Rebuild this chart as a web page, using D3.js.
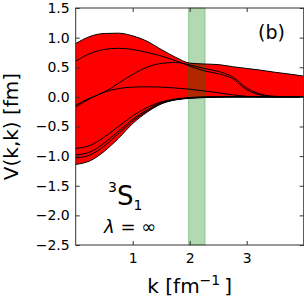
<!DOCTYPE html>
<html>
<head>
<meta charset="utf-8">
<script src="https://cdn.jsdelivr.net/npm/d3@7"></script>
<style>
  body { margin: 0; background: #fff; }
  text { font-family: "DejaVu Sans", sans-serif; fill: #000; }
</style>
</head>
<body>
<div id="chart"></div>
<script>
// momentum grid shared by all curves (fm^-1)
const kGrid = [0, 0.25, 0.5, 0.75, 1.0, 1.25, 1.5, 1.75, 2.0, 2.25, 2.5, 2.75, 3.0, 3.25, 3.5, 3.75, 4.0];

// diagonal matrix elements V(k,k) [fm], one array per potential
const curveU = [0.90, 1.02, 1.07, 1.075, 1.03, 0.94, 0.80, 0.67, 0.57, 0.555, 0.545, 0.51, 0.48, 0.45, 0.415, 0.385, 0.35];
const curveA = [0.605, 0.73, 0.80, 0.82, 0.80, 0.75, 0.69, 0.61, 0.52, 0.44, 0.39, 0.31, 0.12, 0.03, 0.0, 0.0, 0.0];
const curveB = [-0.14, -0.02, 0.08, 0.23, 0.38, 0.50, 0.565, 0.58, 0.54, 0.48, 0.43, 0.34, 0.15, 0.045, 0.01, 0.0, 0.0];
const curveC = [-0.17, -0.03, 0.08, 0.14, 0.165, 0.17, 0.165, 0.15, 0.13, 0.10, 0.07, 0.035, 0.01, 0.0, 0.0, 0.0, 0.0];
const curveD = [-0.87, -0.82, -0.68, -0.50, -0.32, -0.18, -0.085, -0.035, -0.012, 0.0, 0.0, 0.0, 0.0, 0.0, 0.0, 0.0, 0.0];
const curveE = [-0.98, -0.93, -0.78, -0.58, -0.38, -0.22, -0.10, -0.045, -0.018, -0.005, 0.0, 0.0, 0.0, 0.0, 0.0, 0.0, 0.0];
const curveF = [-1.03, -0.98, -0.83, -0.62, -0.41, -0.24, -0.11, -0.05, -0.02, -0.008, 0.0, 0.0, 0.0, 0.0, 0.0, 0.0, 0.0];
const curveG = [-1.14, -1.08, -0.92, -0.70, -0.45, -0.26, -0.12, -0.05, -0.025, -0.012, -0.005, 0.0, 0.0, 0.0, 0.0, 0.0, 0.0];
const allCurves = [curveU, curveA, curveB, curveC, curveD, curveE, curveF, curveG];

// shaded momentum window
const bandK = [1.98, 2.27];

const xTicks = [1, 2, 3];
const yTicks = [-2.5, -2.0, -1.5, -1.0, -0.5, 0.0, 0.5, 1.0, 1.5];

const width = 304;
const height = 299;
const margin = { top: 8, right: 0.3, bottom: 54, left: 75.7 };

const svg = d3.select('#chart')
  .append('svg')
  .attr('width', width)
  .attr('height', height);

const x = d3.scaleLinear().domain([0, 4]).range([margin.left, width - margin.right]);
const y = d3.scaleLinear().domain([-2.5, 1.5]).range([height - margin.bottom, margin.top]);

const fmt = d => d3.format('.1f')(d).replace('-', '\u2212');

//Envelope of all curves
const envelope = kGrid.map((k, i) => ({
  k: k,
  lo: d3.min(allCurves, c => c[i]),
  hi: d3.max(allCurves, c => c[i])
}));

const area = d3.area()
  .x(d => x(d.k))
  .y0(d => y(d.lo))
  .y1(d => y(d.hi))
  .curve(d3.curveMonotoneX);

svg.append('path')
  .datum(envelope)
  .attr('d', area)
  .attr('fill', '#ff0000');

//Green band
svg.append('rect')
  .attr('x', x(bandK[0]))
  .attr('y', y(1.5))
  .attr('width', x(bandK[1]) - x(bandK[0]))
  .attr('height', y(-2.5) - y(1.5))
  .attr('fill', 'rgba(0,128,0,0.3)')
  .attr('stroke', 'rgba(0,128,0,0.3)')
  .attr('stroke-width', 1);

//Curves
const line = d3.line()
  .x((d, i) => x(kGrid[i]))
  .y(d => y(d))
  .curve(d3.curveMonotoneX);

svg.append('g')
  .selectAll('path')
  .data(allCurves)
  .enter()
  .append('path')
  .attr('d', line)
  .attr('fill', 'none')
  .attr('stroke', '#000')
  .attr('stroke-width', 1);

//Axes (ticks inward on all four sides)
const tickLen = 4;
const axisColor = '#333';

svg.append('g')
  .attr('transform', 'translate(0,' + y(-2.5) + ')')
  .call(d3.axisBottom(x).tickValues(xTicks).tickSize(-tickLen).tickPadding(8).tickFormat(d3.format('d')))
  .call(g => g.select('.domain').remove())
  .call(g => g.selectAll('line').attr('stroke', axisColor))
  .call(g => g.selectAll('text').style('font-size', '14px').style('font-family', '"DejaVu Sans", sans-serif'));

svg.append('g')
  .attr('transform', 'translate(0,' + y(1.5) + ')')
  .call(d3.axisTop(x).tickValues(xTicks).tickSize(-tickLen).tickFormat(''))
  .call(g => g.select('.domain').remove())
  .call(g => g.selectAll('line').attr('stroke', axisColor));

svg.append('g')
  .attr('transform', 'translate(' + x(0) + ',0)')
  .call(d3.axisLeft(y).tickValues(yTicks).tickSize(-tickLen).tickPadding(6).tickFormat(fmt))
  .call(g => g.select('.domain').remove())
  .call(g => g.selectAll('line').attr('stroke', axisColor))
  .call(g => g.selectAll('text').style('font-size', '14px').style('font-family', '"DejaVu Sans", sans-serif'));

svg.append('g')
  .attr('transform', 'translate(' + x(4) + ',0)')
  .call(d3.axisRight(y).tickValues(yTicks).tickSize(-tickLen).tickFormat(''))
  .call(g => g.select('.domain').remove())
  .call(g => g.selectAll('line').attr('stroke', axisColor));

svg.append('rect')
  .attr('x', x(0))
  .attr('y', y(1.5))
  .attr('width', x(4) - x(0))
  .attr('height', y(-2.5) - y(1.5))
  .attr('fill', 'none')
  .attr('stroke', axisColor)
  .attr('stroke-width', 1);

//Axis labels
const xl = svg.append('text')
  .attr('x', (x(0) + x(4)) / 2)
  .attr('y', 293)
  .attr('text-anchor', 'middle')
  .style('font-size', '20px');
xl.append('tspan').text('k [fm');
xl.append('tspan').attr('dy', -8).style('font-size', '14px').text('\u22121');
xl.append('tspan').attr('dy', 8).text('\u2009]');

svg.append('text')
  .attr('transform', 'translate(18,' + ((y(1.5) + y(-2.5)) / 2) + ') rotate(-90)')
  .attr('text-anchor', 'middle')
  .style('font-size', '20px')
  .text('V(k,k) [fm]');

//Annotations
svg.append('text')
  .attr('x', 258)
  .attr('y', 39)
  .style('font-size', '19px')
  .text('(b)');

const st = svg.append('text')
  .attr('x', 108)
  .attr('y', 205);
st.append('tspan').attr('dy', -13).style('font-size', '14px').text('3');
st.append('tspan').attr('dy', 13).style('font-size', '26px').text('S');
st.append('tspan').attr('dy', 5).style('font-size', '14px').text('1');

const lam = svg.append('text')
  .attr('x', 104)
  .attr('y', 233)
  .style('font-size', '18px');
lam.append('tspan').style('font-style', 'italic').text('\u03bb');
lam.append('tspan').text(' = \u221e');
</script>
</body>
</html>
